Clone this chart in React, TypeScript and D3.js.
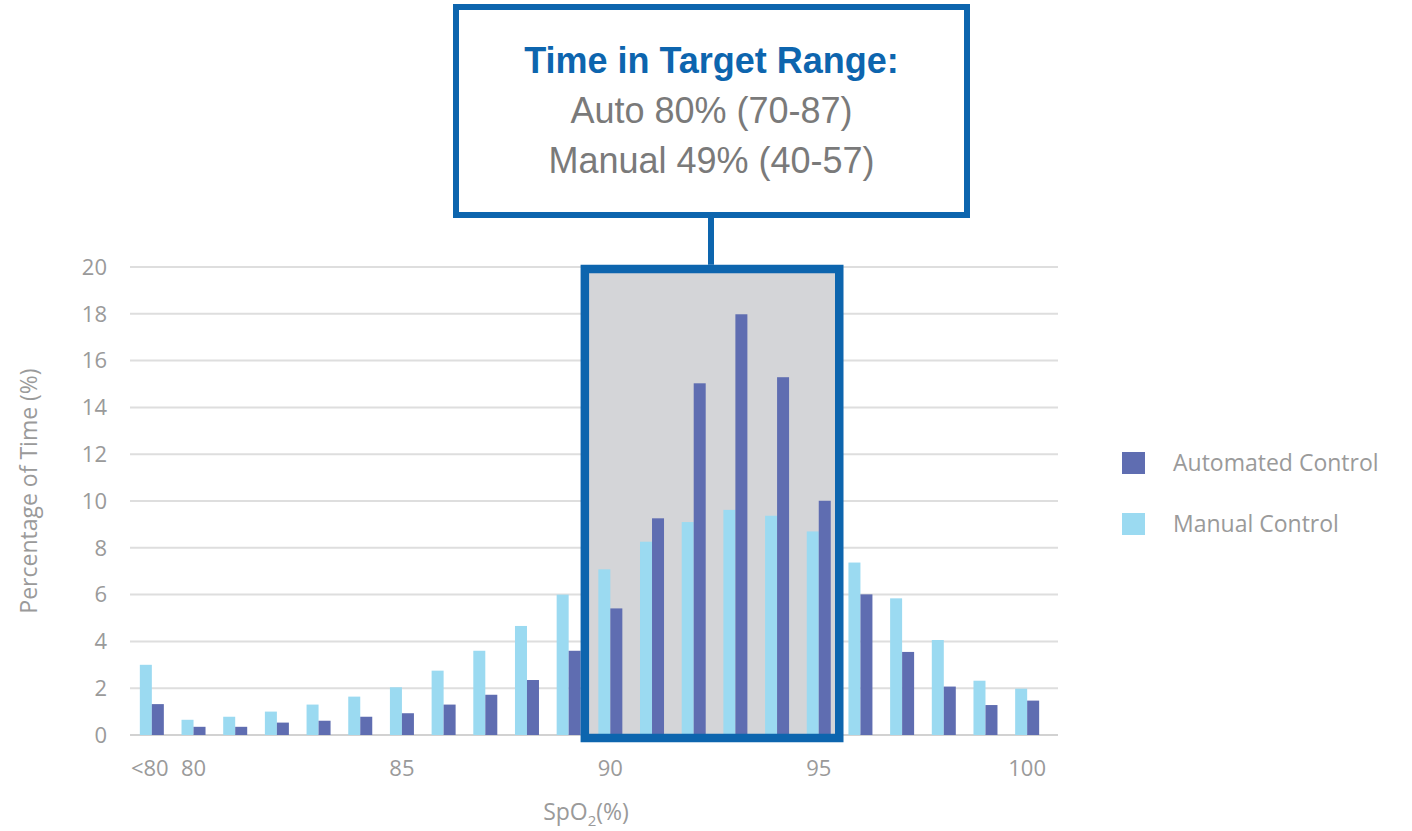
import React from "react";
import * as d3 from "d3";

// SpO2 bins along the x axis
const categories = ["<80", "80", "81", "82", "83", "84", "85", "86", "87", "88", "89", "90", "91", "92", "93", "94", "95", "96", "97", "98", "99", "100"];
// Percentage of time spent in each bin
const manualValues = [3.0, 0.65, 0.78, 1.0, 1.3, 1.64, 2.04, 2.75, 3.6, 4.66, 6.0, 7.08, 8.26, 9.1, 9.62, 9.37, 8.7, 7.37, 5.84, 4.06, 2.32, 1.98];
const autoValues = [1.32, 0.35, 0.35, 0.53, 0.61, 0.78, 0.93, 1.3, 1.72, 2.35, 3.6, 5.41, 9.26, 15.03, 17.98, 15.29, 10.01, 6.01, 3.55, 2.07, 1.28, 1.47];
const yTicks = [0, 2, 4, 6, 8, 10, 12, 14, 16, 18, 20];
const xTickLabels = ["<80", "80", "85", "90", "95", "100"];
const targetRange = ["90", "95"];
const seriesNames = ["Automated Control", "Manual Control"];
const calloutLines = ["Time in Target Range:", "Auto 80% (70-87)", "Manual 49% (40-57)"];

const LIGHT = "#9bdaf1";
const DARK = "#5f6db1";
const BLUE = "#0d65ae";
const GRID = "#dedede";
const LABEL = "#9a9a9a";
const AXIS_FONT = "'Open Sans', 'Noto Sans', sans-serif";
const BOX_FONT = "'Liberation Sans', Arial, sans-serif";

export default function App() {
  const width = 1412;
  const height = 831;

  const x = d3.scaleBand<string>().domain(categories).range([131, 1048]).padding(0);
  const barW = 12;
  const sub = d3.scaleBand<string>().domain(["manual", "auto"]).range([0, barW * 2]).padding(0);
  const y = d3.scaleLinear().domain([0, 20]).range([735, 267]);

  const center = (c: string) => (x(c) as number) + x.bandwidth() / 2;

  // target range highlight (stroke centred on these edges)
  const hlLeft = center(targetRange[0]) - barW - 13.5;
  const hlRight = center(targetRange[1]) + barW + 8.5;
  const hlTop = y(20) + 2;
  const hlBottom = y(0) + 3;
  const sw = 8.5;

  const boxX0 = 456;
  const boxX1 = 967;
  const boxY0 = 7;
  const boxY1 = 215;
  const connectorX = 711;
  const boxMid = (boxX0 + boxX1) / 2;

  return (
    <svg
      width={width}
      height={height}
      style={{ position: "absolute", left: 0, top: 0, background: "#fff" }}
    >
      {/* gridlines */}
      {yTicks.map((t) => (
        <line
          key={"g" + t}
          x1={130}
          x2={1058}
          y1={y(t)}
          y2={y(t)}
          stroke={t === 0 ? "#d2d2d2" : GRID}
          strokeWidth={2}
        />
      ))}

      {/* y tick labels */}
      {yTicks.map((t) => (
        <text
          key={"yl" + t}
          x={107}
          y={y(t)}
          dy="0.35em"
          textAnchor="end"
          fill={LABEL}
          fontFamily={AXIS_FONT}
          fontSize={22}
        >
          {t}
        </text>
      ))}

      {/* target range shading */}
      <rect
        x={hlLeft}
        y={hlTop}
        width={hlRight - hlLeft}
        height={hlBottom - hlTop}
        fill="#d4d5d8"
      />

      {/* bars */}
      {categories.map((c, i) => {
        const gx = center(c) - barW;
        return (
          <g key={"b" + c}>
            <rect
              x={gx + (sub("manual") as number)}
              y={y(manualValues[i])}
              width={barW}
              height={y(0) - y(manualValues[i])}
              fill={LIGHT}
            />
            <rect
              x={gx + (sub("auto") as number)}
              y={y(autoValues[i])}
              width={barW}
              height={y(0) - y(autoValues[i])}
              fill={DARK}
            />
          </g>
        );
      })}

      {/* target range outline */}
      <rect
        x={hlLeft}
        y={hlTop}
        width={hlRight - hlLeft}
        height={hlBottom - hlTop}
        fill="none"
        stroke={BLUE}
        strokeWidth={sw}
      />

      {/* connector */}
      <line
        x1={connectorX}
        x2={connectorX}
        y1={boxY1}
        y2={hlTop - sw / 2}
        stroke={BLUE}
        strokeWidth={6}
      />

      {/* callout box */}
      <rect
        x={boxX0}
        y={boxY0}
        width={boxX1 - boxX0}
        height={boxY1 - boxY0}
        fill="#fff"
        stroke={BLUE}
        strokeWidth={6}
      />
      <text
        x={boxMid}
        y={73}
        textAnchor="middle"
        fill={BLUE}
        fontFamily={BOX_FONT}
        fontWeight="bold"
        fontSize={36}
      >
        {calloutLines[0]}
      </text>
      <text
        x={boxMid}
        y={123}
        textAnchor="middle"
        fill="#7a7a7a"
        fontFamily={BOX_FONT}
        fontSize={36}
      >
        {calloutLines[1]}
      </text>
      <text
        x={boxMid}
        y={173}
        textAnchor="middle"
        fill="#7a7a7a"
        fontFamily={BOX_FONT}
        fontSize={36}
      >
        {calloutLines[2]}
      </text>

      {/* x tick labels */}
      {xTickLabels.map((l) => (
        <text
          key={"xl" + l}
          x={center(l) - (l === "<80" ? 2 : 0)}
          y={776}
          textAnchor="middle"
          fill={LABEL}
          fontFamily={AXIS_FONT}
          fontSize={22}
        >
          {l}
        </text>
      ))}

      {/* axis titles */}
      <text
        x={586}
        y={820}
        textAnchor="middle"
        fill={LABEL}
        fontFamily={AXIS_FONT}
        fontSize={23}
      >
        SpO
        <tspan fontSize={15} dy={6}>2</tspan>
        <tspan dy={-6}>(%)</tspan>
      </text>
      <text
        transform="translate(37,491) rotate(-90)"
        textAnchor="middle"
        fill={LABEL}
        fontFamily={AXIS_FONT}
        fontSize={23}
      >
        Percentage of Time (%)
      </text>

      {/* legend */}
      {seriesNames.map((s, i) => (
        <g key={"lg" + s} transform={`translate(1122, ${452 + i * 61})`}>
          <rect width={23} height={22} fill={i === 0 ? DARK : LIGHT} />
          <text
            x={51}
            y={11}
            dy="0.35em"
            fill={LABEL}
            fontFamily={AXIS_FONT}
            fontSize={23}
          >
            {s}
          </text>
        </g>
      ))}
    </svg>
  );
}
